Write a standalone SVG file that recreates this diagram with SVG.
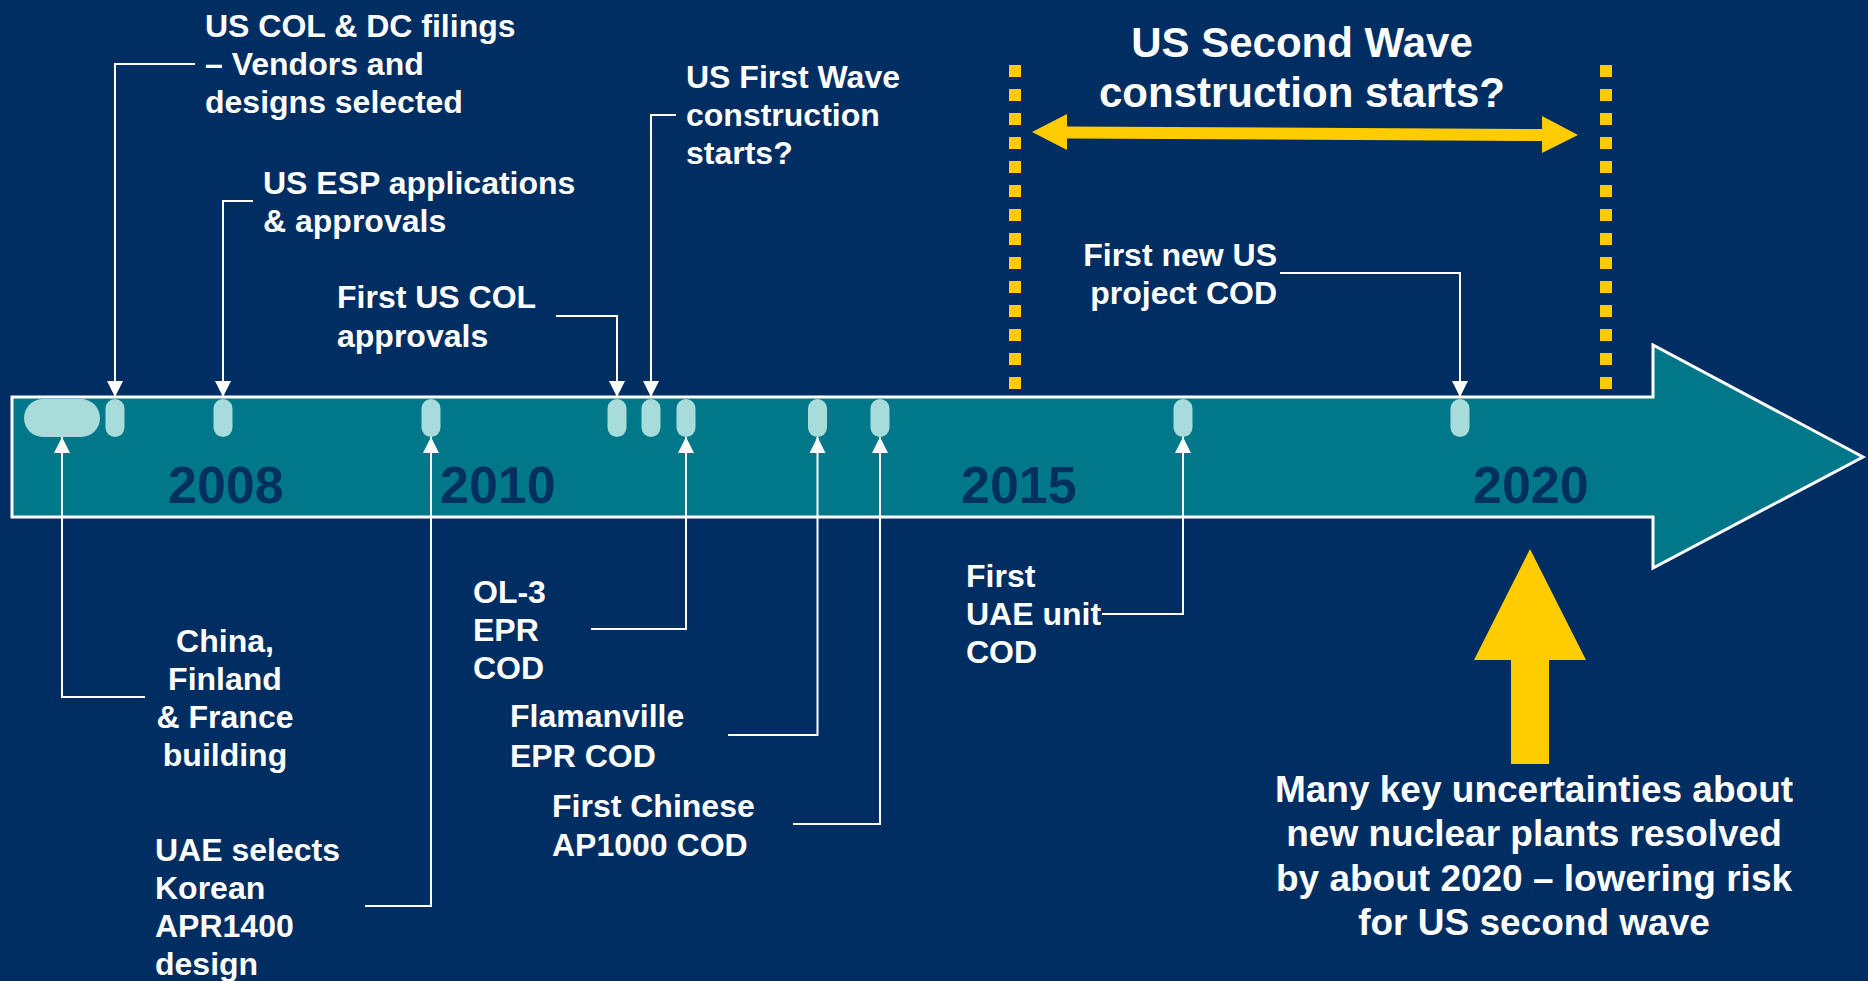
<svg xmlns="http://www.w3.org/2000/svg" width="1868" height="981" viewBox="0 0 1868 981">
<style>
.lbl{font-family:"Liberation Sans",Arial,sans-serif;font-weight:bold;font-size:32px;fill:#ffffff}
.big{font-family:"Liberation Sans",Arial,sans-serif;font-weight:bold;fill:#ffffff}
.year{font-family:"Liberation Sans",Arial,sans-serif;font-weight:bold;font-size:52px;fill:#00305f}
.pill{fill:#a8dcda}
.con{fill:none;stroke:#ffffff;stroke-width:2;marker-end:url(#ah)}
.dash{stroke:#ffcc00;stroke-width:12;stroke-dasharray:12 12}
</style>
<defs>
<marker id="ah" markerUnits="userSpaceOnUse" markerWidth="16" markerHeight="16" viewBox="0 0 16 16" refX="16" refY="8" orient="auto">
<path d="M0,0 L16,8 L0,16 z" fill="#ffffff"/>
</marker>
</defs>
<rect x="0" y="0" width="1868" height="981" fill="#002e62"/>

<g id="timeline">
<polygon points="12,397 1653,397 1653,345 1863,457 1653,568 1653,517 12,517" fill="#00788a" stroke="#ffffff" stroke-width="3"/>
<text class="year" x="168" y="503">2008</text>
<text class="year" x="440" y="503">2010</text>
<text class="year" x="961" y="503">2015</text>
<text class="year" x="1473" y="503">2020</text>
</g>

<g id="markers">
<rect class="pill" x="24" y="399" width="76" height="38" rx="19"/>
<rect class="pill" x="105.5" y="399" width="19" height="38" rx="9.5"/>
<rect class="pill" x="213.5" y="399" width="19" height="38" rx="9.5"/>
<rect class="pill" x="421.5" y="399" width="19" height="38" rx="9.5"/>
<rect class="pill" x="607.5" y="399" width="19" height="38" rx="9.5"/>
<rect class="pill" x="641.5" y="399" width="19" height="38" rx="9.5"/>
<rect class="pill" x="676.5" y="399" width="19" height="38" rx="9.5"/>
<rect class="pill" x="808" y="399" width="19" height="38" rx="9.5"/>
<rect class="pill" x="870.5" y="399" width="19" height="38" rx="9.5"/>
<rect class="pill" x="1173.5" y="399" width="19" height="38" rx="9.5"/>
<rect class="pill" x="1450.5" y="399" width="19" height="38" rx="9.5"/>
</g>

<g id="second-wave">
<line class="dash" x1="1015" y1="65" x2="1015" y2="389"/>
<line class="dash" x1="1606" y1="65" x2="1606" y2="389"/>
<polygon points="1032,132 1067,114 1067,126.5 1542,129 1542,116 1578,135 1542,153 1542,141 1067,138.5 1067,150" fill="#ffcc00"/>
<text class="big" font-size="42" text-anchor="middle" x="1302" y="57">US Second Wave</text>
<text class="big" font-size="42" text-anchor="middle" x="1302" y="107">construction starts?</text>
</g>

<g id="connectors">
<path class="con" d="M195,64 H115 V397"/>
<path class="con" d="M253,201 H223 V397"/>
<path class="con" d="M556,316 H617 V397"/>
<path class="con" d="M676,115 H651 V397"/>
<path class="con" d="M1280,273 H1460 V397"/>
<path class="con" d="M145,697 H62 V437"/>
<path class="con" d="M365,906 H431 V437"/>
<path class="con" d="M591,629 H686 V437"/>
<path class="con" d="M728,735 H817.5 V437"/>
<path class="con" d="M793,824 H880 V437"/>
<path class="con" d="M1102,614 H1183 V437"/>
</g>

<g id="n-col-filings">
<text class="lbl" x="205" y="37">US COL &amp; DC filings</text>
<text class="lbl" x="205" y="75">– Vendors and</text>
<text class="lbl" x="205" y="113">designs selected</text>
</g>
<g id="n-esp">
<text class="lbl" x="263" y="194">US ESP applications</text>
<text class="lbl" x="263" y="232">&amp; approvals</text>
</g>
<g id="n-first-col">
<text class="lbl" x="337" y="308">First US COL</text>
<text class="lbl" x="337" y="347">approvals</text>
</g>
<g id="n-first-wave">
<text class="lbl" x="686" y="88">US First Wave</text>
<text class="lbl" x="686" y="126">construction</text>
<text class="lbl" x="686" y="164">starts?</text>
</g>
<g id="n-first-new-us">
<text class="lbl" text-anchor="end" x="1277" y="266">First new US</text>
<text class="lbl" text-anchor="end" x="1277" y="304">project COD</text>
</g>
<g id="n-china">
<text class="lbl" text-anchor="middle" x="225" y="652">China,</text>
<text class="lbl" text-anchor="middle" x="225" y="690">Finland</text>
<text class="lbl" text-anchor="middle" x="225" y="728">&amp; France</text>
<text class="lbl" text-anchor="middle" x="225" y="766">building</text>
</g>
<g id="n-uae-selects">
<text class="lbl" x="155" y="861">UAE selects</text>
<text class="lbl" x="155" y="899">Korean</text>
<text class="lbl" x="155" y="937">APR1400</text>
<text class="lbl" x="155" y="975">design</text>
</g>
<g id="n-ol3">
<text class="lbl" x="473" y="603">OL-3</text>
<text class="lbl" x="473" y="641">EPR</text>
<text class="lbl" x="473" y="679">COD</text>
</g>
<g id="n-flamanville">
<text class="lbl" x="510" y="727">Flamanville</text>
<text class="lbl" x="510" y="767">EPR COD</text>
</g>
<g id="n-first-chinese">
<text class="lbl" x="552" y="817">First Chinese</text>
<text class="lbl" x="552" y="856">AP1000 COD</text>
</g>
<g id="n-first-uae">
<text class="lbl" x="966" y="587">First</text>
<text class="lbl" x="966" y="625">UAE unit</text>
<text class="lbl" x="966" y="663">COD</text>
</g>

<g id="n-uncertainties">
<polygon points="1530,549 1586,660 1549,660 1549,764 1511,764 1511,660 1474,660" fill="#ffcc00"/>
<text class="big" font-size="37" text-anchor="middle" x="1534" y="802">Many key uncertainties about</text>
<text class="big" font-size="37" text-anchor="middle" x="1534" y="846">new nuclear plants resolved</text>
<text class="big" font-size="37" text-anchor="middle" x="1534" y="891">by about 2020 – lowering risk</text>
<text class="big" font-size="37" text-anchor="middle" x="1534" y="935">for US second wave</text>
</g>
</svg>
